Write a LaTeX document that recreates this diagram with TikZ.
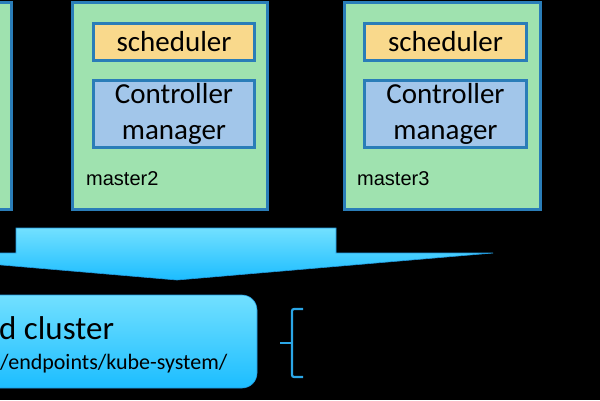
\documentclass[tikz,border=0pt]{standalone}
\usepackage{fontspec}
\setmainfont{Carlito}
\newfontfamily\labelfont{Liberation Sans}
\definecolor{mborder}{HTML}{2A7DB8}
\definecolor{mfill}{HTML}{9FE2AF}
\definecolor{sfill}{HTML}{F9D98C}
\definecolor{cfill}{HTML}{A2C6EA}
\definecolor{atop}{HTML}{72E0FF}
\definecolor{abot}{HTML}{1CBDFF}
\definecolor{aedge}{HTML}{2299DD}
\definecolor{bracecol}{HTML}{2BA6E6}
\begin{document}
\begin{tikzpicture}[x=1pt,y=-1pt,
  masterbox/.style={draw=mborder,fill=mfill,line width=3pt,inner sep=0pt},
  schedbox/.style={draw=mborder,fill=sfill,line width=3pt,inner sep=0pt,minimum height=37pt,font=\fontsize{29}{35}\selectfont},
  ctrlbox/.style={draw=mborder,fill=cfill,line width=3pt,inner sep=0pt,minimum height=67pt,align=center,font=\fontsize{29}{36}\selectfont},
  mlabel/.style={anchor=base west,inner sep=0pt,font=\labelfont\fontsize{20}{24}\selectfont},
  etcdbox/.style={draw=aedge,line width=0.6pt,rounded corners=15pt,top color=atop,bottom color=abot,inner sep=0pt},
  bracestyle/.style={draw=bracecol,line width=2.2pt,rounded corners=2pt}]
\useasboundingbox (0,0) rectangle (600,400);
\fill[black] (0,0) rectangle (600,400);
\clip (0,0) rectangle (600,400);
% master boxes
\node[masterbox,minimum width=200pt,minimum height=207pt] (m1) at (-88.5,106) {};
\node[masterbox,minimum width=195pt,minimum height=207pt] (m2) at (170,106) {};
\node[masterbox,minimum width=196pt,minimum height=207pt] (m3) at (442.5,106) {};
% inner boxes master2
\node[schedbox,minimum width=161pt] (s2) at (174,42) {scheduler};
\node[ctrlbox,minimum width=161pt] (c2) at (174,114) {Controller\\manager};
\node[mlabel] (l2) at (86,185) {master2};
% inner boxes master3
\node[schedbox,minimum width=162pt] (s3) at (445.5,42) {scheduler};
\node[ctrlbox,minimum width=162pt] (c3) at (445.5,114) {Controller\\manager};
\node[mlabel] (l3) at (357,185) {master3};
% big arrow
\shade[top color=atop,bottom color=abot,draw=aedge,line width=0.6pt]
  (16,228) -- (336,228) -- (336,253) -- (493,253) -- (177,280) -- (-139,253) -- (16,253) -- cycle;
% etcd cluster box
\node[etcdbox,minimum width=307pt,minimum height=93pt] (etcd) at (103.5,341.5) {};
\node[anchor=base west,inner sep=0pt,font=\fontsize{33}{40}\selectfont] (t1) at (-1,339) {d cluster};
\node[anchor=base west,inner sep=0pt,font=\fontsize{22}{26}\selectfont] (t2) at (0,369) {/endpoints/kube-system/};
% brace
\draw[bracestyle] (303,309) -- (292,309) -- (292,377) -- (303,377);
\draw[bracestyle] (292,343) -- (280,343);
\end{tikzpicture}
\end{document}
